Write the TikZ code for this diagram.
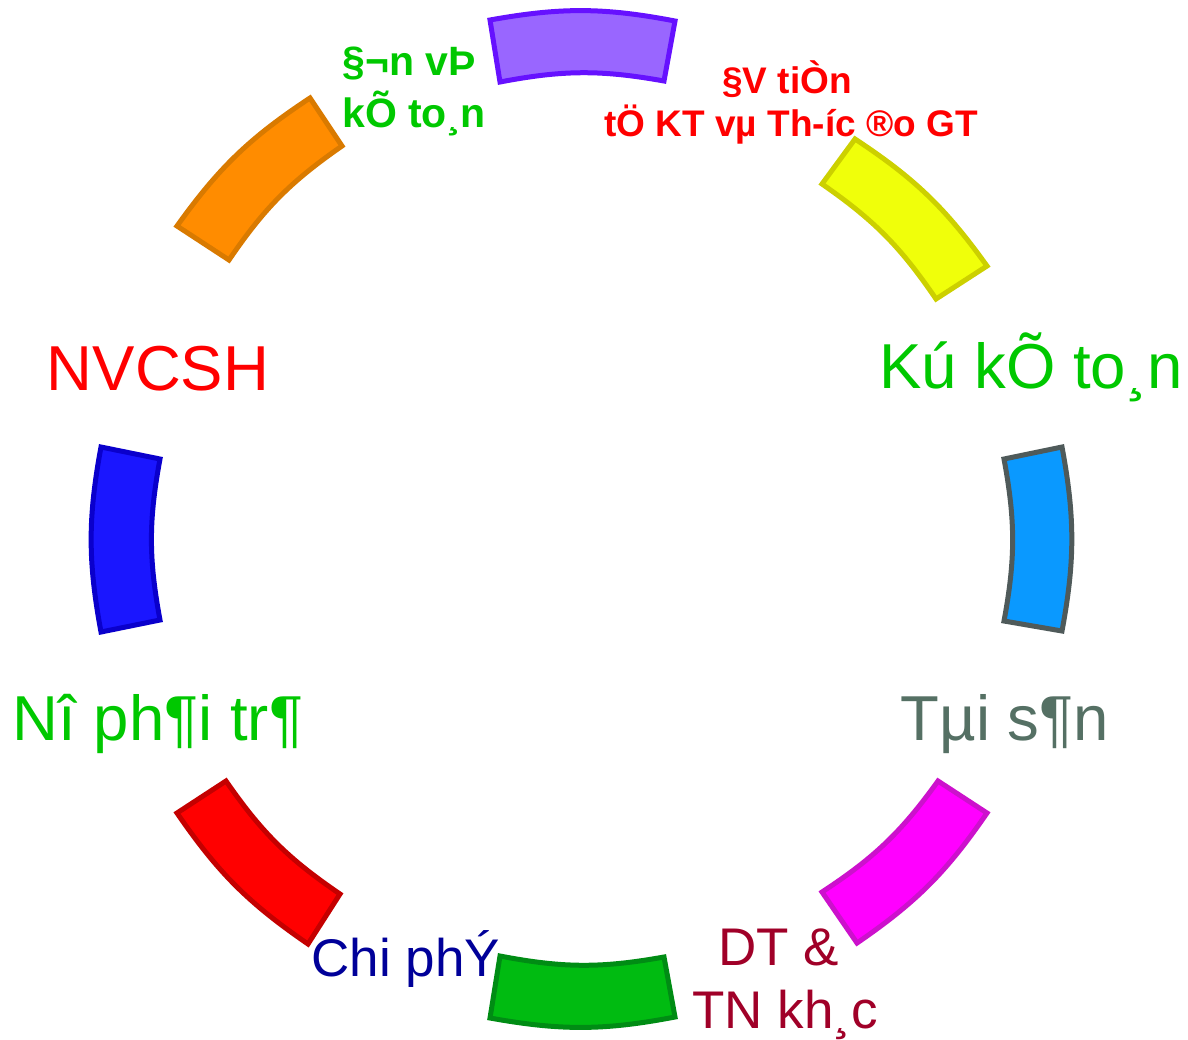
\documentclass[tikz,border=0pt]{standalone}
\usepackage{fontspec}
\setmainfont{Liberation Sans}
\definecolor{purpleFill}{HTML}{9966FF}
\definecolor{purpleLine}{HTML}{6611FF}
\definecolor{orangeFill}{HTML}{FF8C00}
\definecolor{orangeLine}{HTML}{D97A00}
\definecolor{yellowFill}{HTML}{F0FF0A}
\definecolor{yellowLine}{HTML}{CCD000}
\definecolor{blueRFill}{HTML}{0A99FF}
\definecolor{blueRLine}{HTML}{4F5A5A}
\definecolor{magFill}{HTML}{FF00FF}
\definecolor{magLine}{HTML}{CC11CC}
\definecolor{greenFill}{HTML}{00BB11}
\definecolor{greenLine}{HTML}{008C14}
\definecolor{redFill}{HTML}{FF0000}
\definecolor{redLine}{HTML}{C40000}
\definecolor{blueLFill}{HTML}{1A16FF}
\definecolor{blueLLine}{HTML}{0A00CC}
\definecolor{txtGreen}{HTML}{00C800}
\definecolor{txtRed}{HTML}{FF0000}
\definecolor{txtGray}{HTML}{557064}
\definecolor{txtNavy}{HTML}{000099}
\definecolor{txtDarkRed}{HTML}{A00028}
\tikzset{
  seg/.style={line width=5pt, line join=miter},
  big/.style={inner sep=0pt, anchor=base, font=\fontsize{63.5}{63.5}\selectfont},
  mid/.style={inner sep=0pt, anchor=base, font=\fontsize{53}{53}\selectfont},
  topgreen/.style={inner sep=0pt, anchor=base, text=txtGreen, font=\fontsize{41}{41}\selectfont\bfseries},
  topred/.style={inner sep=0pt, anchor=base, text=txtRed, font=\fontsize{37}{37}\selectfont\bfseries},
}
\begin{document}
\begin{tikzpicture}[x=1pt, y=-1pt]
\useasboundingbox (0,0) rectangle (1188,1039);
% segments: outer edge clockwise (bend left), inner edge counter-clockwise (bend right)
\draw[seg, fill=purpleFill, draw=purpleLine]
  (490,20) to[bend left=10.5] (675,21) -- (664,81) to[bend right=10.5] (500,82) -- cycle;
\draw[seg, fill=yellowFill, draw=yellowLine]
  (855,139) to[bend left=10.5] (987,266) -- (936,299) to[bend right=10.5] (822,184) -- cycle;
\draw[seg, fill=blueRFill, draw=blueRLine]
  (1062,447) to[bend left=10.5] (1062,631) -- (1004,621) to[bend right=10.5] (1004,459) -- cycle;
\draw[seg, fill=magFill, draw=magLine]
  (987,813) to[bend left=10.5] (857,943) -- (822,892) to[bend right=10.5] (938,781) -- cycle;
\draw[seg, fill=greenFill, draw=greenLine]
  (675,1017) to[bend left=10.5] (490,1018) -- (500,956) to[bend right=10.5] (664,957) -- cycle;
\draw[seg, fill=redFill, draw=redLine]
  (308,944) to[bend left=10.5] (177,813) -- (226,781) to[bend right=10.5] (340,894) -- cycle;
\draw[seg, fill=blueLFill, draw=blueLLine]
  (101,632) to[bend left=10.5] (101,447) -- (160,459) to[bend right=10.5] (160,620) -- cycle;
\draw[seg, fill=orangeFill, draw=orangeLine]
  (177,226) to[bend left=10.5] (310,98) -- (342,146) to[bend right=10.5] (229,260) -- cycle;
% labels
\node[topgreen] (l1a) at (409,75) {§¬n vÞ};
\node[topgreen] (l1b) at (414,127) {kÕ to¸n};
\node[topred] (l2a) at (787,93) {§V tiÒn};
\node[topred] (l2b) at (791,136) {tÖ KT vµ Th-íc ®o GT};
\node[big, text=txtGreen] (l3) at (1031,388) {Kú kÕ to¸n};
\node[big, text=txtRed] (l4) at (158,390) {NVCSH};
\node[big, text=txtGreen] (l5) at (158,740) {Nî ph¶i tr¶};
\node[big, text=txtGray] (l6) at (1005,740) {Tµi s¶n};
\node[mid, text=txtNavy] (l7) at (406,976) {Chi phÝ};
\node[mid, text=txtDarkRed] (l8a) at (779,965) {DT \&};
\node[mid, text=txtDarkRed] (l8b) at (785,1028) {TN kh¸c};
\end{tikzpicture}
\end{document}
